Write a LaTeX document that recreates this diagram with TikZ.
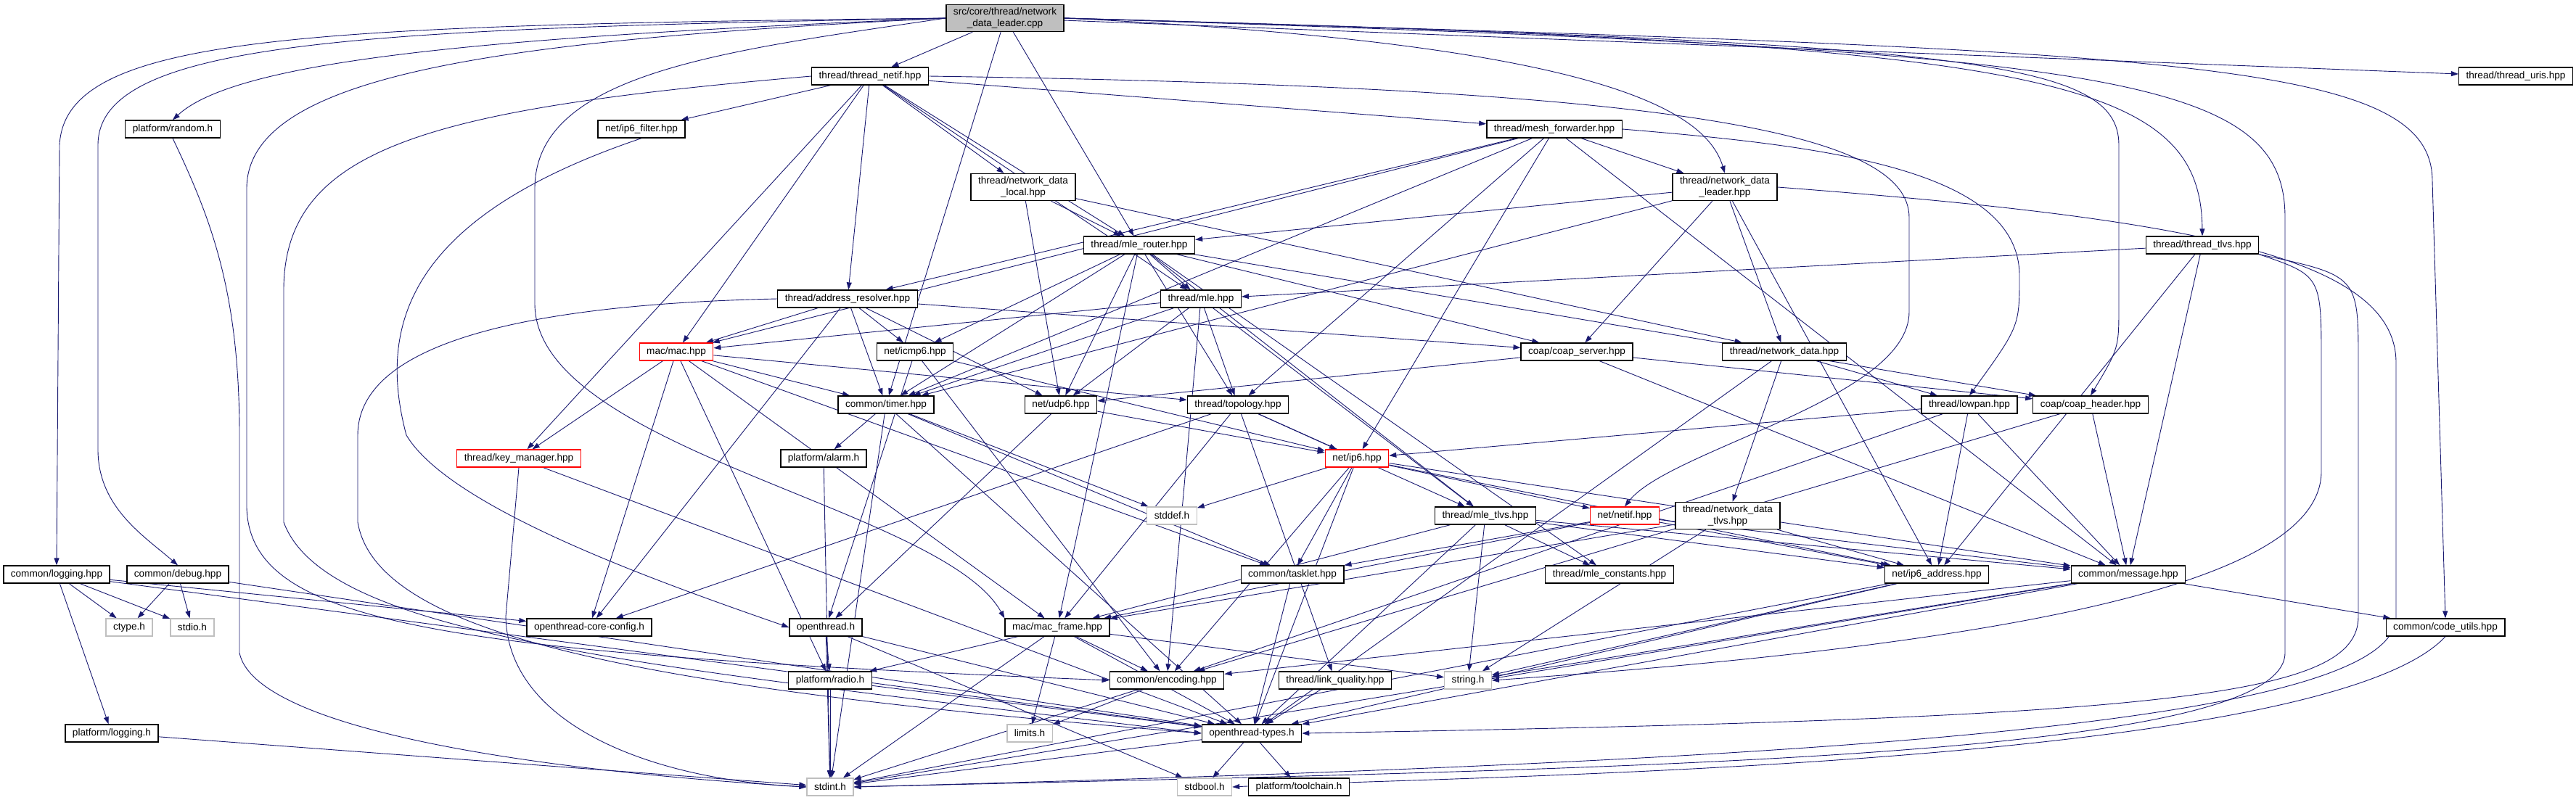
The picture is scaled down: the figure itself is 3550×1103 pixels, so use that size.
\documentclass[tikz,border=0pt]{standalone}
\usepackage{xcolor}
\usepackage{fontspec}
\setmainfont{Liberation Sans}
\usepackage{tikz}
\usetikzlibrary{arrows.meta,backgrounds}
\definecolor{edgedoxy}{RGB}{25, 25, 112}
\definecolor{graydoxy}{RGB}{191, 191, 191}
\definecolor{reddoxy}{RGB}{255, 0, 0}

\begin{document}
\begin{tikzpicture}[
      x=1pt, y=-1pt,
      every node/.style={font=\fontsize{13.6}{15.5}\selectfont},
      file/.style={
        draw=black,
        fill=white,
        line width=1.3pt,
        inner xsep=10pt,
        inner ysep=4.5pt,
        minimum height=24pt,
        align=center
      },
      sysfile/.style={file, draw=graydoxy},
      truncfile/.style={file, draw=reddoxy},
      rootfile/.style={file, fill=graydoxy},
      dep/.style={
        draw=edgedoxy,
        line width=0.9pt,
        -{Triangle[length=10pt, width=7pt]}
      },
  ]
  \useasboundingbox (0,0) rectangle (3550,1103);

  % source file and its first level
  \node[rootfile] (root) at (1385,25) {src/core/thread/network\\\_data\_leader.cpp};
  \node[file] (tnetif) at (1199,105) {thread/thread\_netif.hpp};
  \node[file] (uris) at (3467,105) {thread/thread\_uris.hpp};
  \node[file] (random) at (238,178) {platform/random.h};
  \node[file] (ipfilter) at (884,178) {net/ip6\_filter.hpp};
  \node[file] (meshfwd) at (2142,178) {thread/mesh\_forwarder.hpp};
  \node[file] (ndlocal) at (1410,258) {thread/network\_data\\\_local.hpp};
  \node[file] (ndleader) at (2377,258) {thread/network\_data\\\_leader.hpp};
  \node[file] (mlerouter) at (1570,338) {thread/mle\_router.hpp};
  \node[file] (ttlvs) at (3035,338) {thread/thread\_tlvs.hpp};

  % middle rows
  \node[file] (addrres) at (1168,412) {thread/address\_resolver.hpp};
  \node[file] (mle) at (1655,412) {thread/mle.hpp};
  \node[truncfile] (mac) at (932,485) {mac/mac.hpp};
  \node[file] (icmp) at (1261,485) {net/icmp6.hpp};
  \node[file] (coapsrv) at (2173,485) {coap/coap\_server.hpp};
  \node[file] (netdata) at (2459,485) {thread/network\_data.hpp};
  \node[file] (timer) at (1221,558) {common/timer.hpp};
  \node[file] (udp) at (1462,558) {net/udp6.hpp};
  \node[file] (topo) at (1706,558) {thread/topology.hpp};
  \node[file] (lowpan) at (2714,558) {thread/lowpan.hpp};
  \node[file] (coaphdr) at (2881,558) {coap/coap\_header.hpp};
  \node[truncfile] (keymgr) at (715,632) {thread/key\_manager.hpp};
  \node[file] (alarm) at (1135,632) {platform/alarm.h};
  \node[truncfile] (ipsix) at (1870,632) {net/ip6.hpp};
  \node[sysfile] (stddef) at (1615,711) {stddef.h};
  \node[file] (mletlvs) at (2047,711) {thread/mle\_tlvs.hpp};
  \node[truncfile] (netif) at (2239,711) {net/netif.hpp};
  \node[file] (ndtlvs) at (2381,711) {thread/network\_data\\\_tlvs.hpp};

  % lower rows
  \node[file] (logging) at (78,792) {common/logging.hpp};
  \node[file] (debug) at (245,792) {common/debug.hpp};
  \node[file] (tasklet) at (1781,792) {common/tasklet.hpp};
  \node[file] (mleconst) at (2218,792) {thread/mle\_constants.hpp};
  \node[file] (ipaddr) at (2669,792) {net/ip6\_address.hpp};
  \node[file] (message) at (2933,792) {common/message.hpp};
  \node[sysfile] (ctype) at (178,865) {ctype.h};
  \node[sysfile] (stdio) at (265,865) {stdio.h};
  \node[file] (coreconfig) at (812,865) {openthread-core-config.h};
  \node[file] (ot) at (1138,865) {openthread.h};
  \node[file] (macframe) at (1457,865) {mac/mac\_frame.hpp};
  \node[file] (codeutils) at (3370,865) {common/code\_utils.hpp};
  \node[file] (radio) at (1144,938) {platform/radio.h};
  \node[file] (encoding) at (1608,938) {common/encoding.hpp};
  \node[file] (linkq) at (1840,938) {thread/link\_quality.hpp};
  \node[sysfile] (string) at (2023,938) {string.h};
  \node[file] (plogging) at (154,1011) {platform/logging.h};
  \node[sysfile] (limits) at (1419,1011) {limits.h};
  \node[file] (ottypes) at (1725,1011) {openthread-types.h};
  \node[sysfile] (stdint) at (1144,1085) {stdint.h};
  \node[sysfile] (stdbool) at (1660,1085) {stdbool.h};
  \node[file] (toolchain) at (1790,1085) {platform/toolchain.h};

  \begin{scope}[on background layer]
    % 1. network_data_leader.cpp
    \foreach \t in {tnetif,timer,mlerouter,uris}
      \draw[dep] (root) -- (\t);
    \draw[dep] (root.west) .. controls (400,35) and (90,50) .. (82,200) -- (logging.north);
    \draw[dep] (root.west) .. controls (500,40) and (135,55) .. (135,200)
      -- (135,620) .. controls (135,700) and (200,740) .. (debug.north);
    \draw[dep] (root.west) .. controls (700,50) and (330,80) .. (random.north);
    \draw[dep] (root.west) .. controls (700,55) and (340,100) .. (340,260)
      -- (340,700) .. controls (345,860) and (600,900) .. (encoding.west);
    \draw[dep] (root.west) .. controls (1000,70) and (737,100) .. (737,260)
      -- (737,420) .. controls (740,620) and (1300,700) .. (macframe.north west);
    \draw[dep] (root.east) .. controls (2200,60) and (2350,150) .. (ndleader.north);
    \draw[dep] (root.east) .. controls (2800,60) and (3033,100) .. (ttlvs.north);
    \draw[dep] (root.east) .. controls (2700,60) and (2920,80) .. (2920,200)
      -- (2920,420) .. controls (2920,480) .. (coaphdr.north);
    \draw[dep] (root.east) .. controls (2900,70) and (3149,100) .. (3149,300)
      -- (3149,900) .. controls (3149,1050) and (2200,1060) .. (stdint.east);
    \draw[dep] (root.east) .. controls (3000,70) and (3352,80) .. (3352,250) -- (codeutils.north);
    % 2. thread_netif.hpp
    \foreach \t in {ipfilter,meshfwd,ndlocal,mlerouter,addrres,mac,keymgr,mle}
      \draw[dep] (tnetif) -- (\t);
    \draw[dep] (tnetif.east) .. controls (2300,120) and (2631,180) .. (2631,300)
      -- (2631,430) .. controls (2631,550) and (2300,620) .. (netif.north);
    \draw[dep] (tnetif.west) .. controls (600,150) and (391,200) .. (391,400)
      -- (391,720) .. controls (450,880) and (900,920) .. (ottypes.west);
    % 3. thread headers
    \foreach \t in {ndleader,mac,addrres,timer,topo,ipsix,message}
      \draw[dep] (meshfwd) -- (\t);
    \draw[dep] (meshfwd.east) .. controls (2500,200) and (2783,230) .. (2783,380)
      .. controls (2783,450) .. (lowpan.north);
    \foreach \t in {mlerouter,udp,netdata}
      \draw[dep] (ndlocal) -- (\t);
    \foreach \t in {mlerouter,coapsrv,netdata,ipaddr,timer}
      \draw[dep] (ndleader) -- (\t);
    \draw[dep] (ndleader.east) .. controls (3000,300) and (3302,350) .. (3302,500)
      -- (3302,850) .. controls (3302,1000) and (2500,1050) .. (stdint.east);
    \foreach \t in {mle,udp,icmp,timer,topo,coapsrv,mletlvs,macframe,mleconst,coaphdr}
      \draw[dep] (mlerouter) -- (\t);
    \foreach \t in {mac,icmp,timer,udp,coapsrv,coreconfig}
      \draw[dep] (addrres) -- (\t);
    \draw[dep] (addrres.west) .. controls (700,420) and (493,480) .. (493,600)
      -- (493,720) .. controls (520,880) and (900,950) .. (ottypes.west);
    \foreach \t in {mac,timer,udp,topo,mletlvs,encoding}
      \draw[dep] (mle) -- (\t);
    \foreach \t in {mle,ipaddr,message}
      \draw[dep] (ttlvs) -- (\t);
    \draw[dep] (ttlvs.south east) .. controls (3199,380) .. (3199,500)
      -- (3199,650) .. controls (3199,780) and (2900,880) .. (string.east);
    \draw[dep] (ttlvs.south east) .. controls (3250,380) .. (3250,500)
      -- (3250,850) .. controls (3250,960) and (3000,990) .. (ottypes.east);
    \foreach \t in {lowpan,ndtlvs,ottypes}
      \draw[dep] (netdata) -- (\t);
    \foreach \t in {macframe,coreconfig,ipsix,linkq,mletlvs}
      \draw[dep] (topo) -- (\t);
    \foreach \t in {macframe,string,ottypes,mleconst,ipaddr,message}
      \draw[dep] (mletlvs) -- (\t);
    \foreach \t in {ipaddr,string,macframe}
      \draw[dep] (ndtlvs) -- (\t);
    \draw[dep] (keymgr) -- (ottypes);
    \draw[dep] (keymgr.south) -- (697,850) .. controls (700,1000) and (900,1075) .. (stdint.west);
    % 4. mac, net and coap
    \foreach \t in {keymgr,timer,topo,tasklet,macframe,radio,coreconfig}
      \draw[dep] (mac) -- (\t);
    \foreach \t in {ipsix,encoding,ot}
      \draw[dep] (icmp) -- (\t);
    \foreach \t in {ipsix,ot}
      \draw[dep] (udp) -- (\t);
    \draw[dep] (ipfilter.south) .. controls (560,300) and (520,450) .. (560,600)
      .. controls (620,700) and (900,800) .. (ot.west);
    \foreach \t in {netif,ipaddr,message,stddef,ottypes,tasklet,encoding}
      \draw[dep] (ipsix) -- (\t);
    \foreach \t in {tasklet,ipaddr,message,macframe}
      \draw[dep] (netif) -- (\t);
    \foreach \t in {ipsix,ipaddr,message,encoding}
      \draw[dep] (lowpan) -- (\t);
    \foreach \t in {coaphdr,udp,message}
      \draw[dep] (coapsrv) -- (\t);
    \foreach \t in {message,encoding}
      \draw[dep] (coaphdr) -- (\t);
    \foreach \t in {stdint,ottypes,string}
      \draw[dep] (ipaddr) -- (\t);
    % 5. common and platform
    \foreach \t in {alarm,stddef,tasklet,ottypes,stdint}
      \draw[dep] (timer) -- (\t);
    \foreach \t in {ctype,stdio,coreconfig,plogging,ottypes}
      \draw[dep] (logging) -- (\t);
    \foreach \t in {ctype,stdio,ottypes}
      \draw[dep] (debug) -- (\t);
    \foreach \t in {codeutils,encoding,string,stdint,ottypes}
      \draw[dep] (message) -- (\t);
    \draw[dep] (codeutils.south) .. controls (3200,1060) and (2000,1070) .. (stdbool.east);
    \draw[dep] (random.south) .. controls (290,300) and (330,400) .. (330,600)
      -- (330,900) .. controls (350,1000) and (700,1060) .. (stdint.west);
    \draw[dep] (plogging) -- (stdint);
    \draw[dep] (alarm) -- (stdint);
    \draw[dep] (tasklet) -- (ottypes);
    \draw[dep] (linkq) -- (ottypes);
    \foreach \t in {stdint,radio,ottypes,stdbool}
      \draw[dep] (ot) -- (\t);
    \foreach \t in {radio,stdint,limits,encoding,ottypes,string}
      \draw[dep] (macframe) -- (\t);
    \foreach \t in {stdint,ottypes}
      \draw[dep] (radio) -- (\t);
    \foreach \t in {limits,stdint}
      \draw[dep] (encoding) -- (\t);
    \foreach \t in {stdint,stdbool,toolchain}
      \draw[dep] (ottypes) -- (\t);
  \end{scope}
\end{tikzpicture}
\end{document}
